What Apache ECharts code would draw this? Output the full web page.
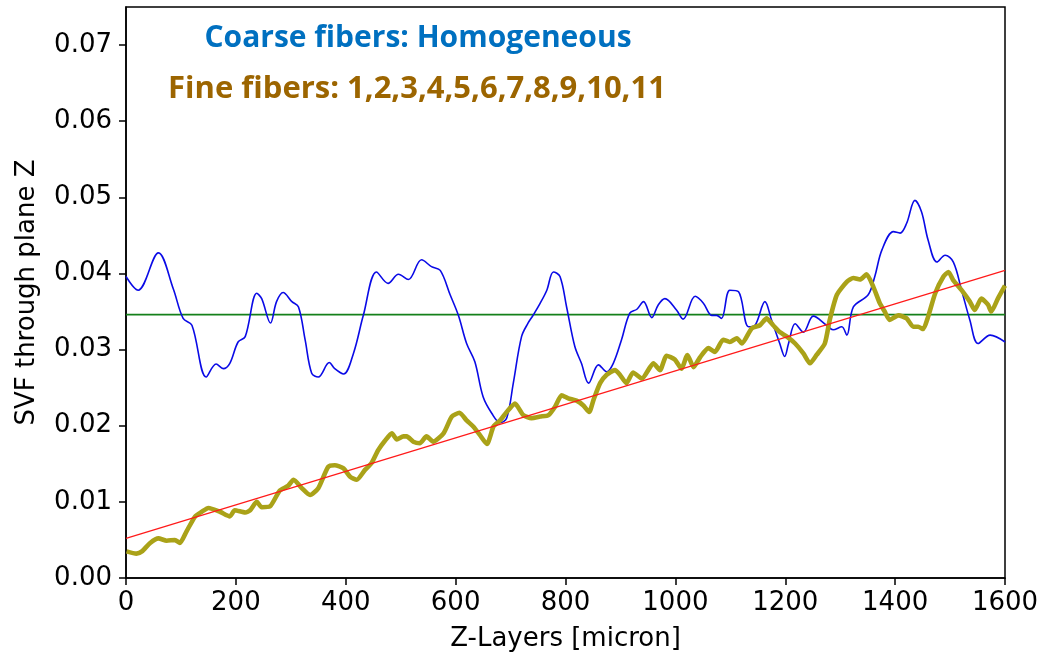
<!DOCTYPE html>
<html>
<head>
<meta charset="utf-8">
<script src="https://cdn.jsdelivr.net/npm/echarts@6/dist/echarts.min.js"></script>
<style>
  html, body { margin: 0; padding: 0; background: #fff; }
  #chart { width: 1044px; height: 660px; }
</style>
</head>
<body>
<div id="chart"></div>
<script>
// Axis ticks
const xTicks = [0, 200, 400, 600, 800, 1000, 1200, 1400, 1600];
const yTicks = [0, 0.01, 0.02, 0.03, 0.04, 0.05, 0.06, 0.07];

// Coarse fibers: solid volume fraction per Z position [micron, SVF]
const coarseSVF = [
  [0,0.0396],[22,0.0378],[59,0.0427],[86,0.0380],[104,0.0341],[120,0.0332],[146,0.0264],[164,0.0281],
  [177,0.0275],[189,0.0282],[204,0.0310],[217,0.0317],[238,0.0374],[247,0.0367],[263,0.0335],[274,0.0363],
  [286,0.0375],[302,0.0363],[314,0.0356],[326,0.0313],[338,0.0269],[350,0.0264],[370,0.0283],[380,0.0275],
  [396,0.0268],[414,0.0295],[432,0.0345],[456,0.0402],[477,0.0387],[496,0.0399],[514,0.0392],[538,0.0418],
  [556,0.0409],[572,0.0404],[590,0.0372],[605,0.0345],[620,0.0308],[635,0.0284],[650,0.0238],[666,0.0216],
  [681,0.0204],[693,0.0210],[705,0.0256],[720,0.0317],[732,0.0335],[741,0.0345],[754,0.0361],[766,0.0378],
  [778,0.0402],[790,0.0396],[802,0.0356],[817,0.0304],[829,0.0282],[842,0.0256],[860,0.0280],[875,0.0271],
  [887,0.0282],[902,0.0313],[917,0.0348],[930,0.0353],[942,0.0363],[957,0.0342],[969,0.0359],[981,0.0367],
  [1002,0.0352],[1014,0.0340],[1036,0.0370],[1051,0.0361],[1066,0.0345],[1075,0.0345],[1084,0.0341],[1099,0.0378],
  [1115,0.0376],[1133,0.0330],[1145,0.0332],[1163,0.0363],[1175,0.0339],[1190,0.0308],[1199,0.0291],[1206,0.0308],
  [1218,0.0334],[1233,0.0323],[1251,0.0344],[1275,0.0332],[1287,0.0326],[1303,0.0330],[1312,0.0319],[1324,0.0356],
  [1351,0.0372],[1363,0.0396],[1376,0.0431],[1397,0.0455],[1409,0.0453],[1421,0.0466],[1436,0.0496],[1448,0.0481],
  [1460,0.0444],[1476,0.0415],[1491,0.0424],[1506,0.0415],[1521,0.0378],[1536,0.0339],[1551,0.0308],[1573,0.0319],
  [1600,0.0310]
];

// Fine fibers: solid volume fraction per Z position [micron, SVF]
const fineSVF = [
  [1,0.0035],[19,0.0032],[29,0.0035],[44,0.0046],[59,0.0052],[74,0.0049],[89,0.0050],[98,0.0046],
  [110,0.0061],[126,0.0081],[138,0.0087],[150,0.0092],[171,0.0087],[189,0.0081],[198,0.0089],[217,0.0086],
  [226,0.0089],[238,0.0100],[247,0.0093],[262,0.0094],[280,0.0115],[295,0.0121],[305,0.0129],[320,0.0118],
  [335,0.0109],[350,0.0118],[368,0.0146],[380,0.0148],[396,0.0144],[408,0.0133],[420,0.0129],[435,0.0142],
  [447,0.0151],[459,0.0168],[471,0.0180],[484,0.0190],[493,0.0182],[505,0.0186],[511,0.0186],[523,0.0179],
  [535,0.0177],[547,0.0186],[559,0.0179],[578,0.0190],[593,0.0212],[607,0.0217],[620,0.0207],[632,0.0199],
  [644,0.0188],[657,0.0176],[669,0.0199],[681,0.0207],[693,0.0218],[708,0.0229],[723,0.0214],[738,0.0210],
  [754,0.0212],[769,0.0214],[781,0.0225],[793,0.0240],[805,0.0236],[820,0.0233],[832,0.0227],[843,0.0218],
  [851,0.0234],[863,0.0256],[875,0.0267],[890,0.0273],[899,0.0267],[911,0.0256],[923,0.0270],[939,0.0262],
  [960,0.0282],[972,0.0273],[984,0.0292],[999,0.0287],[1011,0.0275],[1022,0.0293],[1033,0.0277],[1045,0.0290],
  [1060,0.0302],[1072,0.0297],[1087,0.0313],[1099,0.0310],[1112,0.0315],[1121,0.0308],[1139,0.0328],[1154,0.0332],
  [1166,0.0341],[1178,0.0332],[1190,0.0323],[1203,0.0317],[1218,0.0308],[1233,0.0295],[1245,0.0282],[1257,0.0293],
  [1272,0.0308],[1281,0.0339],[1294,0.0372],[1312,0.0389],[1324,0.0394],[1336,0.0392],[1348,0.0399],[1360,0.0383],
  [1372,0.0361],[1381,0.0350],[1390,0.0339],[1406,0.0345],[1421,0.0341],[1433,0.0330],[1442,0.0330],[1451,0.0327],
  [1460,0.0343],[1473,0.0374],[1488,0.0396],[1497,0.0402],[1506,0.0391],[1521,0.0378],[1536,0.0363],[1545,0.0352],
  [1557,0.0367],[1569,0.0359],[1575,0.0350],[1587,0.0367],[1600,0.0384]
];

// Linear trend of the fine fibers (end points) and mean level of the coarse fibers
const fineTrend = [[0, 0.0052], [1600, 0.0404]];
const coarseMean = [[0, 0.0346], [1600, 0.0346]];

const titleCoarse = 'Coarse fibers: Homogeneous';
const titleFine = 'Fine fibers: 1,2,3,4,5,6,7,8,9,10,11';

const chart = echarts.init(document.getElementById('chart'), null, { renderer: 'canvas' });

const tickFont = { fontFamily: 'DejaVu Sans', fontSize: 26, color: '#000' };

chart.setOption({
  animation: false,
  backgroundColor: '#fff',
  grid: {
    left: 126, right: 39, top: 7, bottom: 82,
    show: true, borderColor: '#000', borderWidth: 1.5, backgroundColor: 'transparent'
  },
  title: [
    {
      text: titleCoarse, left: 413, top: 18, textAlign: 'center',
      textStyle: { fontFamily: 'Open Sans', fontWeight: 'bold', fontSize: 30, color: '#0070c0' }
    },
    {
      text: titleFine, left: 412, top: 69, textAlign: 'center',
      textStyle: { fontFamily: 'Open Sans', fontWeight: 'bold', fontSize: 31, color: '#9c6500' }
    }
  ],
  xAxis: {
    type: 'value', min: 0, max: 1600, interval: 200,
    name: 'Z-Layers [micron]', nameLocation: 'middle', nameGap: 48,
    nameTextStyle: tickFont,
    axisLine: { show: true, lineStyle: { color: '#000', width: 1.5 } },
    axisTick: { show: true, inside: false, length: 7, lineStyle: { color: '#000', width: 1.5 }, customValues: xTicks },
    axisLabel: { margin: 12, customValues: xTicks, formatter: v => String(v), ...tickFont },
    splitLine: { show: false }
  },
  yAxis: {
    type: 'value', min: 0, max: 0.075, interval: 0.01,
    name: 'SVF through plane Z', nameLocation: 'middle', nameGap: 86,
    nameTextStyle: tickFont,
    axisLine: { show: true, lineStyle: { color: '#000', width: 1.5 } },
    axisTick: { show: true, inside: false, length: 7, lineStyle: { color: '#000', width: 1.5 }, customValues: yTicks },
    axisLabel: { margin: 14, customValues: yTicks, formatter: v => v.toFixed(2), ...tickFont },
    splitLine: { show: false }
  },
  series: [
    {
      name: 'coarse', type: 'line', data: coarseSVF, showSymbol: false, smooth: 0.35,
      lineStyle: { color: '#0a0ae6', width: 1.6 }, z: 3
    },
    {
      name: 'mean', type: 'line', data: coarseMean, showSymbol: false,
      lineStyle: { color: '#14801a', width: 1.6 }, z: 2
    },
    {
      name: 'fine', type: 'line', data: fineSVF, showSymbol: false, smooth: 0.2,
      lineStyle: { color: '#aaa218', width: 4.6 }, z: 4
    },
    {
      name: 'trend', type: 'line', data: fineTrend, showSymbol: false,
      lineStyle: { color: '#ff1a1a', width: 1.2 }, z: 5
    }
  ]
});
</script>
</body>
</html>
